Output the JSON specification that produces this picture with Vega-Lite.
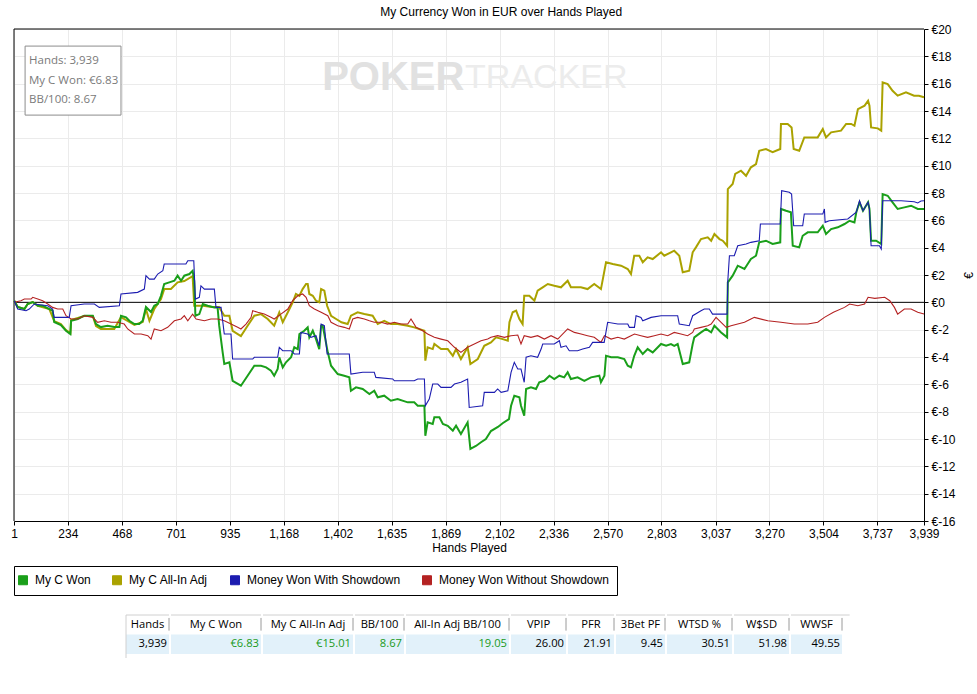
{
"$schema": "https://vega.github.io/schema/vega-lite/v6.json",
"background": "white",
"padding": {"left": 10, "top": 6, "right": 0, "bottom": 0},
"title": {"text": "My Currency Won in EUR over Hands Played", "anchor": "start", "dx": 370, "offset": 4, "font": "Liberation Sans", "fontSize": 12, "fontWeight": "normal", "color": "black"},
"config": {"view": {"stroke": null}, "font": "Liberation Sans",
 "axis": {"labelOverlap": false, "labelFlush": false, "gridColor": "#ebebeb", "domainColor": "black", "tickColor": "black", "tickSize": 4, "labelFont": "Liberation Sans", "labelFontSize": 12, "labelColor": "black", "labelPadding": 3, "titleFont": "Liberation Sans", "titleFontSize": 12, "titleFontWeight": "normal", "titleColor": "black"}},
"datasets": {
"won": [{"h":2,"v":0.12},{"h":17,"v":-0.34},{"h":46,"v":-0.49},{"h":60,"v":-0.12},{"h":82,"v":0.02},{"h":104,"v":-0.25},{"h":126,"v":-0.25},{"h":154,"v":-0.49},{"h":168,"v":-0.61},{"h":175,"v":-1.44},{"h":204,"v":-1.66},{"h":226,"v":-2.08},{"h":245,"v":-2.32},{"h":248,"v":-1.35},{"h":277,"v":-1.22},{"h":305,"v":-0.98},{"h":342,"v":-0.98},{"h":356,"v":-1.59},{"h":377,"v":-1.81},{"h":406,"v":-1.71},{"h":435,"v":-1.81},{"h":457,"v":-1.81},{"h":464,"v":-0.98},{"h":486,"v":-1.10},{"h":500,"v":-1.35},{"h":522,"v":-1.59},{"h":543,"v":-1.59},{"h":558,"v":-1.35},{"h":572,"v":-0.34},{"h":594,"v":-0.71},{"h":608,"v":-0.25},{"h":623,"v":-0.12},{"h":637,"v":0.48},{"h":651,"v":1.34},{"h":673,"v":1.46},{"h":695,"v":1.58},{"h":709,"v":1.95},{"h":724,"v":1.58},{"h":738,"v":1.95},{"h":760,"v":2.07},{"h":774,"v":2.31},{"h":781,"v":1.58},{"h":786,"v":-0.98},{"h":803,"v":-0.86},{"h":818,"v":-0.12},{"h":839,"v":-0.25},{"h":868,"v":-0.37},{"h":882,"v":-0.37},{"h":889,"v":-1.71},{"h":904,"v":-3.66},{"h":911,"v":-4.51},{"h":933,"v":-4.39},{"h":947,"v":-5.74},{"h":983,"v":-6.10},{"h":1012,"v":-5.37},{"h":1041,"v":-4.64},{"h":1070,"v":-4.64},{"h":1092,"v":-4.76},{"h":1113,"v":-5.00},{"h":1127,"v":-5.37},{"h":1142,"v":-4.88},{"h":1149,"v":-4.02},{"h":1164,"v":-4.76},{"h":1178,"v":-4.39},{"h":1200,"v":-4.02},{"h":1214,"v":-3.29},{"h":1229,"v":-3.42},{"h":1236,"v":-2.32},{"h":1257,"v":-2.08},{"h":1272,"v":-1.83},{"h":1279,"v":-2.56},{"h":1294,"v":-2.08},{"h":1308,"v":-2.69},{"h":1322,"v":-3.42},{"h":1330,"v":-1.71},{"h":1337,"v":-1.71},{"h":1344,"v":-2.32},{"h":1359,"v":-3.66},{"h":1373,"v":-4.64},{"h":1402,"v":-5.25},{"h":1430,"v":-5.37},{"h":1452,"v":-5.49},{"h":1459,"v":-6.47},{"h":1481,"v":-6.22},{"h":1510,"v":-6.34},{"h":1539,"v":-6.71},{"h":1560,"v":-6.47},{"h":1575,"v":-6.95},{"h":1603,"v":-6.83},{"h":1632,"v":-7.20},{"h":1661,"v":-7.08},{"h":1705,"v":-7.32},{"h":1733,"v":-7.32},{"h":1748,"v":-7.56},{"h":1777,"v":-7.56},{"h":1781,"v":-9.76},{"h":1791,"v":-8.78},{"h":1813,"v":-8.90},{"h":1820,"v":-8.41},{"h":1842,"v":-8.41},{"h":1857,"v":-8.90},{"h":1878,"v":-9.03},{"h":1900,"v":-9.39},{"h":1914,"v":-9.03},{"h":1935,"v":-9.64},{"h":1964,"v":-8.78},{"h":1976,"v":-10.73},{"h":2000,"v":-10.51},{"h":2022,"v":-10.24},{"h":2043,"v":-10.00},{"h":2065,"v":-9.42},{"h":2095,"v":-9.12},{"h":2117,"v":-8.83},{"h":2143,"v":-8.54},{"h":2152,"v":-7.57},{"h":2166,"v":-6.83},{"h":2188,"v":-6.95},{"h":2195,"v":-7.57},{"h":2209,"v":-8.30},{"h":2217,"v":-6.34},{"h":2238,"v":-6.22},{"h":2260,"v":-6.34},{"h":2274,"v":-5.85},{"h":2296,"v":-5.74},{"h":2318,"v":-5.37},{"h":2339,"v":-5.61},{"h":2361,"v":-5.37},{"h":2382,"v":-5.49},{"h":2397,"v":-5.12},{"h":2411,"v":-5.61},{"h":2440,"v":-5.49},{"h":2469,"v":-5.74},{"h":2498,"v":-5.49},{"h":2534,"v":-5.37},{"h":2541,"v":-5.85},{"h":2556,"v":-5.37},{"h":2563,"v":-3.91},{"h":2585,"v":-4.02},{"h":2614,"v":-4.02},{"h":2642,"v":-4.15},{"h":2657,"v":-4.64},{"h":2671,"v":-4.76},{"h":2685,"v":-3.91},{"h":2700,"v":-3.29},{"h":2722,"v":-3.78},{"h":2743,"v":-3.42},{"h":2765,"v":-3.66},{"h":2801,"v":-3.05},{"h":2823,"v":-3.18},{"h":2844,"v":-3.05},{"h":2858,"v":-3.18},{"h":2873,"v":-3.05},{"h":2895,"v":-4.51},{"h":2923,"v":-4.39},{"h":2938,"v":-3.05},{"h":2945,"v":-2.56},{"h":2974,"v":-2.20},{"h":2996,"v":-1.95},{"h":3018,"v":-2.20},{"h":3032,"v":-1.71},{"h":3061,"v":-2.20},{"h":3087,"v":-2.56},{"h":3090,"v":1.46},{"h":3111,"v":1.95},{"h":3133,"v":2.68},{"h":3162,"v":2.44},{"h":3190,"v":3.17},{"h":3212,"v":3.41},{"h":3226,"v":4.39},{"h":3255,"v":4.51},{"h":3284,"v":4.27},{"h":3317,"v":4.39},{"h":3320,"v":6.83},{"h":3342,"v":6.70},{"h":3363,"v":6.59},{"h":3371,"v":4.14},{"h":3399,"v":4.02},{"h":3414,"v":4.87},{"h":3436,"v":5.12},{"h":3479,"v":5.12},{"h":3501,"v":5.60},{"h":3515,"v":5.00},{"h":3537,"v":5.36},{"h":3566,"v":5.49},{"h":3595,"v":5.73},{"h":3617,"v":5.97},{"h":3638,"v":5.85},{"h":3646,"v":6.59},{"h":3660,"v":7.32},{"h":3675,"v":6.70},{"h":3697,"v":7.32},{"h":3703,"v":6.83},{"h":3710,"v":4.51},{"h":3732,"v":4.51},{"h":3754,"v":4.27},{"h":3760,"v":7.92},{"h":3782,"v":7.80},{"h":3803,"v":7.32},{"h":3825,"v":6.83},{"h":3854,"v":6.95},{"h":3883,"v":7.07},{"h":3912,"v":6.83},{"h":3939,"v":6.83}],
"adj": [{"h":2,"v":0.12},{"h":17,"v":-0.34},{"h":46,"v":-0.49},{"h":60,"v":-0.12},{"h":82,"v":0.02},{"h":104,"v":-0.25},{"h":154,"v":-0.49},{"h":175,"v":-1.37},{"h":204,"v":-1.59},{"h":226,"v":-2.03},{"h":245,"v":-2.25},{"h":248,"v":-1.30},{"h":305,"v":-1.00},{"h":342,"v":-1.00},{"h":356,"v":-1.73},{"h":377,"v":-1.95},{"h":435,"v":-1.95},{"h":464,"v":-1.08},{"h":500,"v":-1.44},{"h":522,"v":-1.66},{"h":558,"v":-1.44},{"h":572,"v":-0.49},{"h":587,"v":-1.35},{"h":608,"v":-0.49},{"h":637,"v":0.24},{"h":651,"v":0.97},{"h":680,"v":0.97},{"h":709,"v":1.46},{"h":738,"v":1.56},{"h":774,"v":1.92},{"h":781,"v":-0.25},{"h":818,"v":-0.25},{"h":858,"v":-0.34},{"h":888,"v":-0.34},{"h":911,"v":-0.98},{"h":933,"v":-0.98},{"h":947,"v":-2.08},{"h":983,"v":-2.47},{"h":1012,"v":-1.71},{"h":1041,"v":-0.98},{"h":1070,"v":-0.86},{"h":1099,"v":-1.22},{"h":1127,"v":-1.71},{"h":1149,"v":-0.73},{"h":1164,"v":-1.46},{"h":1186,"v":-0.73},{"h":1207,"v":0},{"h":1221,"v":0.61},{"h":1236,"v":0.48},{"h":1250,"v":0.97},{"h":1265,"v":1.34},{"h":1272,"v":1.34},{"h":1279,"v":0.61},{"h":1294,"v":0.48},{"h":1308,"v":0.12},{"h":1322,"v":0},{"h":1330,"v":0.97},{"h":1344,"v":0.85},{"h":1356,"v":-0.25},{"h":1373,"v":-0.98},{"h":1395,"v":-1.22},{"h":1418,"v":-1.46},{"h":1445,"v":-1.59},{"h":1459,"v":-0.98},{"h":1488,"v":-0.73},{"h":1517,"v":-0.86},{"h":1553,"v":-0.98},{"h":1575,"v":-1.59},{"h":1603,"v":-1.35},{"h":1632,"v":-1.59},{"h":1661,"v":-1.59},{"h":1705,"v":-1.71},{"h":1733,"v":-1.83},{"h":1777,"v":-2.08},{"h":1781,"v":-4.27},{"h":1791,"v":-3.29},{"h":1813,"v":-3.42},{"h":1820,"v":-3.05},{"h":1849,"v":-3.42},{"h":1878,"v":-3.42},{"h":1900,"v":-3.91},{"h":1914,"v":-3.42},{"h":1935,"v":-4.15},{"h":1964,"v":-3.29},{"h":1976,"v":-4.51},{"h":2008,"v":-4.15},{"h":2036,"v":-3.18},{"h":2065,"v":-2.93},{"h":2087,"v":-2.56},{"h":2116,"v":-2.69},{"h":2138,"v":-2.81},{"h":2145,"v":-1.46},{"h":2159,"v":-0.73},{"h":2174,"v":-0.61},{"h":2188,"v":-1.22},{"h":2202,"v":-1.59},{"h":2209,"v":0.48},{"h":2231,"v":0.48},{"h":2253,"v":0.12},{"h":2267,"v":0.85},{"h":2289,"v":1.10},{"h":2311,"v":1.34},{"h":2339,"v":1.21},{"h":2368,"v":1.10},{"h":2397,"v":1.58},{"h":2411,"v":1.10},{"h":2454,"v":1.10},{"h":2483,"v":0.97},{"h":2512,"v":1.34},{"h":2541,"v":0.97},{"h":2563,"v":2.93},{"h":2592,"v":2.80},{"h":2628,"v":2.68},{"h":2657,"v":2.44},{"h":2671,"v":2.07},{"h":2685,"v":3.41},{"h":2707,"v":3.41},{"h":2722,"v":2.93},{"h":2743,"v":3.29},{"h":2765,"v":3.17},{"h":2801,"v":3.66},{"h":2815,"v":3.41},{"h":2844,"v":3.66},{"h":2858,"v":3.78},{"h":2880,"v":3.41},{"h":2895,"v":2.20},{"h":2923,"v":2.31},{"h":2938,"v":3.66},{"h":2952,"v":4.02},{"h":2974,"v":4.63},{"h":3003,"v":4.76},{"h":3018,"v":4.51},{"h":3032,"v":5.00},{"h":3054,"v":4.63},{"h":3068,"v":4.51},{"h":3087,"v":4.14},{"h":3090,"v":8.29},{"h":3111,"v":8.66},{"h":3122,"v":9.39},{"h":3147,"v":9.63},{"h":3169,"v":9.26},{"h":3190,"v":9.88},{"h":3212,"v":10.12},{"h":3226,"v":11.09},{"h":3255,"v":11.22},{"h":3284,"v":10.98},{"h":3317,"v":11.22},{"h":3320,"v":13.05},{"h":3349,"v":13.05},{"h":3366,"v":12.80},{"h":3375,"v":11.22},{"h":3399,"v":11.09},{"h":3421,"v":12.07},{"h":3479,"v":12.07},{"h":3501,"v":12.68},{"h":3515,"v":12.07},{"h":3537,"v":12.44},{"h":3580,"v":12.56},{"h":3602,"v":13.05},{"h":3624,"v":13.05},{"h":3638,"v":12.92},{"h":3653,"v":14.14},{"h":3682,"v":14.39},{"h":3697,"v":14.75},{"h":3703,"v":14.39},{"h":3710,"v":12.80},{"h":3739,"v":12.73},{"h":3754,"v":12.56},{"h":3760,"v":16.10},{"h":3782,"v":15.97},{"h":3803,"v":15.48},{"h":3825,"v":15.12},{"h":3861,"v":15.37},{"h":3896,"v":15.12},{"h":3917,"v":15.12},{"h":3939,"v":15.01}],
"sd": [{"h":2,"v":0.12},{"h":17,"v":-0.49},{"h":53,"v":-0.61},{"h":67,"v":-0.49},{"h":89,"v":-0.12},{"h":147,"v":-0.25},{"h":168,"v":-0.49},{"h":175,"v":-1.10},{"h":240,"v":-1.10},{"h":248,"v":-0.25},{"h":305,"v":-0.12},{"h":349,"v":-0.12},{"h":370,"v":-0.37},{"h":457,"v":-0.25},{"h":464,"v":0.61},{"h":536,"v":0.73},{"h":565,"v":0.97},{"h":572,"v":1.95},{"h":587,"v":1.70},{"h":608,"v":1.70},{"h":623,"v":2.07},{"h":645,"v":2.31},{"h":651,"v":2.80},{"h":745,"v":2.80},{"h":753,"v":3.04},{"h":779,"v":3.04},{"h":786,"v":0.24},{"h":803,"v":0.37},{"h":810,"v":1.21},{"h":825,"v":0.97},{"h":868,"v":0.97},{"h":875,"v":-0.37},{"h":897,"v":-0.37},{"h":911,"v":-2.32},{"h":940,"v":-2.32},{"h":947,"v":-4.15},{"h":1034,"v":-4.15},{"h":1041,"v":-4.02},{"h":1142,"v":-4.02},{"h":1149,"v":-3.29},{"h":1164,"v":-3.54},{"h":1200,"v":-3.54},{"h":1214,"v":-3.78},{"h":1236,"v":-3.78},{"h":1243,"v":-2.20},{"h":1272,"v":-2.32},{"h":1286,"v":-2.56},{"h":1308,"v":-2.44},{"h":1322,"v":-3.18},{"h":1330,"v":-1.59},{"h":1344,"v":-1.71},{"h":1356,"v":-3.78},{"h":1452,"v":-3.78},{"h":1459,"v":-5.25},{"h":1510,"v":-5.12},{"h":1560,"v":-5.12},{"h":1567,"v":-5.49},{"h":1640,"v":-5.61},{"h":1647,"v":-5.74},{"h":1733,"v":-5.74},{"h":1748,"v":-5.61},{"h":1777,"v":-5.61},{"h":1781,"v":-7.57},{"h":1798,"v":-7.08},{"h":1813,"v":-5.98},{"h":1835,"v":-5.98},{"h":1849,"v":-6.22},{"h":1892,"v":-6.22},{"h":1907,"v":-5.98},{"h":1935,"v":-5.85},{"h":1964,"v":-5.61},{"h":1971,"v":-7.69},{"h":2029,"v":-7.57},{"h":2036,"v":-6.59},{"h":2080,"v":-6.59},{"h":2094,"v":-6.34},{"h":2109,"v":-6.59},{"h":2138,"v":-6.47},{"h":2152,"v":-5.12},{"h":2166,"v":-4.39},{"h":2181,"v":-4.88},{"h":2195,"v":-4.88},{"h":2209,"v":-5.85},{"h":2217,"v":-4.02},{"h":2238,"v":-3.91},{"h":2267,"v":-4.02},{"h":2282,"v":-3.42},{"h":2289,"v":-3.05},{"h":2339,"v":-3.05},{"h":2361,"v":-2.81},{"h":2368,"v":-3.29},{"h":2390,"v":-3.18},{"h":2404,"v":-3.54},{"h":2440,"v":-3.54},{"h":2462,"v":-3.42},{"h":2491,"v":-3.29},{"h":2505,"v":-2.93},{"h":2555,"v":-2.93},{"h":2570,"v":-1.46},{"h":2614,"v":-1.59},{"h":2657,"v":-1.59},{"h":2664,"v":-1.83},{"h":2686,"v":-1.83},{"h":2693,"v":-0.98},{"h":2714,"v":-1.10},{"h":2722,"v":-1.35},{"h":2758,"v":-1.10},{"h":2801,"v":-0.98},{"h":2873,"v":-0.98},{"h":2880,"v":-1.59},{"h":2923,"v":-1.71},{"h":2938,"v":-0.98},{"h":2974,"v":-0.61},{"h":2988,"v":-0.49},{"h":3010,"v":-0.49},{"h":3024,"v":-0.86},{"h":3087,"v":-0.86},{"h":3090,"v":1.58},{"h":3097,"v":3.41},{"h":3118,"v":3.41},{"h":3133,"v":4.14},{"h":3169,"v":4.27},{"h":3190,"v":4.39},{"h":3226,"v":4.51},{"h":3231,"v":5.73},{"h":3317,"v":5.73},{"h":3323,"v":8.17},{"h":3356,"v":8.05},{"h":3366,"v":7.92},{"h":3375,"v":5.60},{"h":3414,"v":5.60},{"h":3421,"v":6.46},{"h":3501,"v":6.46},{"h":3508,"v":6.83},{"h":3511,"v":5.85},{"h":3529,"v":5.97},{"h":3609,"v":6.10},{"h":3646,"v":6.59},{"h":3660,"v":7.43},{"h":3675,"v":6.70},{"h":3697,"v":7.32},{"h":3703,"v":6.83},{"h":3710,"v":4.14},{"h":3746,"v":4.14},{"h":3754,"v":3.90},{"h":3760,"v":7.43},{"h":3840,"v":7.43},{"h":3897,"v":7.36},{"h":3912,"v":7.27},{"h":3926,"v":7.41},{"h":3939,"v":7.43}],
"nsd": [{"h":2,"v":0},{"h":31,"v":0.12},{"h":46,"v":0.24},{"h":75,"v":0.24},{"h":82,"v":0.37},{"h":104,"v":0.24},{"h":125,"v":0.12},{"h":147,"v":-0.12},{"h":168,"v":-0.37},{"h":190,"v":-0.49},{"h":212,"v":-0.49},{"h":226,"v":-0.98},{"h":248,"v":-1.22},{"h":277,"v":-1.22},{"h":305,"v":-0.98},{"h":342,"v":-1.10},{"h":363,"v":-1.46},{"h":392,"v":-1.35},{"h":421,"v":-1.46},{"h":450,"v":-1.46},{"h":478,"v":-1.59},{"h":493,"v":-1.95},{"h":522,"v":-2.32},{"h":551,"v":-2.32},{"h":580,"v":-2.44},{"h":594,"v":-2.69},{"h":608,"v":-1.95},{"h":637,"v":-2.08},{"h":666,"v":-1.83},{"h":695,"v":-1.35},{"h":724,"v":-1.22},{"h":738,"v":-0.98},{"h":753,"v":-1.35},{"h":774,"v":-0.86},{"h":789,"v":-1.22},{"h":825,"v":-1.35},{"h":853,"v":-1.22},{"h":882,"v":-1.22},{"h":911,"v":-1.35},{"h":940,"v":-1.59},{"h":969,"v":-1.83},{"h":983,"v":-1.95},{"h":1005,"v":-1.59},{"h":1027,"v":-1.10},{"h":1034,"v":-0.61},{"h":1056,"v":-0.73},{"h":1084,"v":-0.86},{"h":1113,"v":-1.10},{"h":1127,"v":-1.22},{"h":1156,"v":-0.86},{"h":1186,"v":-0.49},{"h":1207,"v":0.12},{"h":1229,"v":0.48},{"h":1250,"v":0.61},{"h":1265,"v":0.37},{"h":1279,"v":-0.25},{"h":1301,"v":-0.49},{"h":1330,"v":-0.73},{"h":1359,"v":-0.98},{"h":1373,"v":-1.46},{"h":1402,"v":-1.71},{"h":1430,"v":-1.83},{"h":1452,"v":-1.95},{"h":1467,"v":-1.22},{"h":1488,"v":-1.10},{"h":1517,"v":-1.22},{"h":1539,"v":-1.35},{"h":1560,"v":-1.46},{"h":1589,"v":-1.46},{"h":1618,"v":-1.59},{"h":1647,"v":-1.46},{"h":1676,"v":-1.59},{"h":1705,"v":-1.59},{"h":1719,"v":-1.22},{"h":1741,"v":-1.83},{"h":1770,"v":-2.08},{"h":1791,"v":-2.32},{"h":1820,"v":-2.56},{"h":1849,"v":-2.69},{"h":1878,"v":-2.81},{"h":1907,"v":-3.29},{"h":1935,"v":-3.66},{"h":1964,"v":-3.29},{"h":1993,"v":-3.05},{"h":2022,"v":-2.81},{"h":2051,"v":-2.69},{"h":2065,"v":-2.56},{"h":2094,"v":-2.44},{"h":2123,"v":-2.56},{"h":2152,"v":-2.44},{"h":2181,"v":-2.39},{"h":2195,"v":-3.05},{"h":2209,"v":-2.44},{"h":2238,"v":-2.56},{"h":2267,"v":-2.44},{"h":2296,"v":-2.69},{"h":2325,"v":-2.44},{"h":2354,"v":-2.69},{"h":2397,"v":-1.95},{"h":2426,"v":-2.20},{"h":2455,"v":-2.32},{"h":2483,"v":-2.44},{"h":2512,"v":-2.56},{"h":2541,"v":-2.93},{"h":2556,"v":-2.44},{"h":2585,"v":-2.69},{"h":2614,"v":-2.56},{"h":2642,"v":-2.69},{"h":2686,"v":-2.32},{"h":2714,"v":-2.44},{"h":2743,"v":-2.56},{"h":2772,"v":-2.44},{"h":2801,"v":-2.32},{"h":2830,"v":-2.44},{"h":2858,"v":-2.20},{"h":2887,"v":-2.32},{"h":2916,"v":-2.44},{"h":2938,"v":-2.20},{"h":2945,"v":-1.95},{"h":2974,"v":-1.83},{"h":3003,"v":-1.71},{"h":3018,"v":-1.59},{"h":3039,"v":-1.10},{"h":3061,"v":-1.46},{"h":3083,"v":-1.83},{"h":3104,"v":-1.71},{"h":3133,"v":-1.59},{"h":3162,"v":-1.46},{"h":3190,"v":-1.22},{"h":3205,"v":-1.10},{"h":3263,"v":-1.35},{"h":3320,"v":-1.46},{"h":3378,"v":-1.59},{"h":3436,"v":-1.59},{"h":3479,"v":-1.46},{"h":3508,"v":-1.10},{"h":3547,"v":-0.73},{"h":3595,"v":-0.37},{"h":3617,"v":-0.12},{"h":3653,"v":-0.25},{"h":3682,"v":-0.12},{"h":3697,"v":0.37},{"h":3726,"v":0.29},{"h":3769,"v":0.37},{"h":3791,"v":0.12},{"h":3811,"v":-0.37},{"h":3825,"v":-0.86},{"h":3854,"v":-0.49},{"h":3883,"v":-0.49},{"h":3912,"v":-0.73},{"h":3939,"v":-0.86}],
"stats": [{"col":"Hands","value":"3,939"},{"col":"My C Won","value":"€6.83"},{"col":"My C All-In Adj","value":"€15.01"},{"col":"BB/100","value":"8.67"},{"col":"All-In Adj BB/100","value":"19.05"},{"col":"VPIP","value":"26.00"},{"col":"PFR","value":"21.91"},{"col":"3Bet PF","value":"9.45"},{"col":"WTSD %","value":"30.51"},{"col":"W$SD","value":"51.98"},{"col":"WWSF","value":"49.55"}]
},
"spacing": 61,
"vconcat": [
{
"width": 910, "height": 492,
"layer": [
 {"data": {"name": "stats"}, "transform": [{"filter": "datum.col == 'Hands'"}], "mark": {"type": "text", "text": "POKER", "font": "Liberation Sans", "fontWeight": "bold", "fontSize": 40, "color": "#e1e1e1", "align": "right", "baseline": "middle"},
  "encoding": {"x": {"datum": 1950, "type": "quantitative", "title": "Hands Played", "axis": {"values": [1,234,468,701,935,1168,1402,1635,1869,2102,2336,2570,2803,3037,3270,3504,3737,3939], "format": ",d", "labelFlush": false, "labelOverlap": false, "grid": true, "titlePadding": 3}},
   "y": {"datum": 16.4, "type": "quantitative", "title": "€", "axis": {"orient": "right", "values": [-16,-14,-12,-10,-8,-6,-4,-2,0,2,4,6,8,10,12,14,16,18,20], "labelExpr": "datum.value < 0 ? '€-' + abs(datum.value) : '€' + datum.value", "labelFlush": false, "labelOverlap": false, "grid": true, "titleAngle": 270, "titlePadding": 20}}}},
 {"data": {"name": "stats"}, "transform": [{"filter": "datum.col == 'Hands'"}], "mark": {"type": "text", "text": "TRACKER", "font": "Liberation Sans", "fontSize": 34, "color": "#ececec", "align": "left", "baseline": "middle"},
  "encoding": {"x": {"datum": 1953, "type": "quantitative", "title": "Hands Played", "axis": {"values": [1,234,468,701,935,1168,1402,1635,1869,2102,2336,2570,2803,3037,3270,3504,3737,3939], "format": ",d", "labelFlush": false, "labelOverlap": false, "grid": true, "titlePadding": 3}},
   "y": {"datum": 16.4, "type": "quantitative", "title": "€", "axis": {"orient": "right", "values": [-16,-14,-12,-10,-8,-6,-4,-2,0,2,4,6,8,10,12,14,16,18,20], "labelExpr": "datum.value < 0 ? '€-' + abs(datum.value) : '€' + datum.value", "labelFlush": false, "labelOverlap": false, "grid": true, "titleAngle": 270, "titlePadding": 20}}}},
 {"data": {"name": "stats"}, "transform": [{"filter": "datum.col == 'Hands'"}], "mark": {"type": "rule", "color": "black", "strokeWidth": 1},
  "encoding": {"x": {"datum": 1, "type": "quantitative", "title": "Hands Played", "axis": {"values": [1,234,468,701,935,1168,1402,1635,1869,2102,2336,2570,2803,3037,3270,3504,3737,3939], "format": ",d", "labelFlush": false, "labelOverlap": false, "grid": true, "titlePadding": 3}}, "x2": {"datum": 3939},
   "y": {"datum": 20, "type": "quantitative", "title": "€", "axis": {"orient": "right", "values": [-16,-14,-12,-10,-8,-6,-4,-2,0,2,4,6,8,10,12,14,16,18,20], "labelExpr": "datum.value < 0 ? '€-' + abs(datum.value) : '€' + datum.value", "labelFlush": false, "labelOverlap": false, "grid": true, "titleAngle": 270, "titlePadding": 20}}}},
 {"data": {"name": "stats"}, "transform": [{"filter": "datum.col == 'Hands'"}], "mark": {"type": "rule", "color": "black", "strokeWidth": 1},
  "encoding": {"x": {"datum": 1, "type": "quantitative", "title": "Hands Played", "axis": {"values": [1,234,468,701,935,1168,1402,1635,1869,2102,2336,2570,2803,3037,3270,3504,3737,3939], "format": ",d", "labelFlush": false, "labelOverlap": false, "grid": true, "titlePadding": 3}},
   "y": {"datum": -16, "type": "quantitative", "title": "€", "axis": {"orient": "right", "values": [-16,-14,-12,-10,-8,-6,-4,-2,0,2,4,6,8,10,12,14,16,18,20], "labelExpr": "datum.value < 0 ? '€-' + abs(datum.value) : '€' + datum.value", "labelFlush": false, "labelOverlap": false, "grid": true, "titleAngle": 270, "titlePadding": 20}}, "y2": {"datum": 20}}},
 {"data": {"name": "stats"}, "transform": [{"filter": "datum.col == 'Hands'"}], "mark": {"type": "rule", "color": "black", "strokeWidth": 1},
  "encoding": {"x": {"datum": 1, "type": "quantitative", "title": "Hands Played", "axis": {"values": [1,234,468,701,935,1168,1402,1635,1869,2102,2336,2570,2803,3037,3270,3504,3737,3939], "format": ",d", "labelFlush": false, "labelOverlap": false, "grid": true, "titlePadding": 3}}, "x2": {"datum": 3939},
   "y": {"datum": 0, "type": "quantitative", "title": "€", "axis": {"orient": "right", "values": [-16,-14,-12,-10,-8,-6,-4,-2,0,2,4,6,8,10,12,14,16,18,20], "labelExpr": "datum.value < 0 ? '€-' + abs(datum.value) : '€' + datum.value", "labelFlush": false, "labelOverlap": false, "grid": true, "titleAngle": 270, "titlePadding": 20}}}},
 {"data": {"name": "adj"}, "mark": {"type": "line", "strokeWidth": 2},
  "encoding": {
   "x": {"field": "h", "type": "quantitative", "title": "Hands Played", "scale": {"domain": [1, 3939], "nice": false, "zero": false},
    "axis": {"values": [1,234,468,701,935,1168,1402,1635,1869,2102,2336,2570,2803,3037,3270,3504,3737,3939], "format": ",d", "labelFlush": false, "labelOverlap": false, "grid": true, "titlePadding": 3}},
   "y": {"field": "v", "type": "quantitative", "title": "€", "scale": {"domain": [-16, 20], "nice": false, "zero": false},
    "axis": {"orient": "right", "values": [-16,-14,-12,-10,-8,-6,-4,-2,0,2,4,6,8,10,12,14,16,18,20], "labelExpr": "datum.value < 0 ? '€-' + abs(datum.value) : '€' + datum.value", "labelFlush": false, "labelOverlap": false, "grid": true, "titleAngle": 270, "titlePadding": 20}},
   "color": {"datum": "My C All-In Adj", "type": "nominal",
   "scale": {"domain": ["My C Won", "My C All-In Adj", "Money Won With Showdown", "Money Won Without Showdown"], "range": ["#1a9f1a", "#aaa200", "#1c1cb0", "#b42222"]},
   "legend": {"title": null, "orient": "none", "legendX": 0, "legendY": 537, "direction": "horizontal", "columns": 4, "columnPadding": 19, "symbolType": "square", "symbolSize": 81, "symbolStrokeWidth": 1, "symbolStrokeColor": "black", "symbolOffset": -5, "labelFont": "Liberation Sans", "labelFontSize": 12, "labelColor": "black", "labelOffset": 6, "labelLimit": 300, "strokeColor": "black", "fillColor": "white", "padding": 8,
     "encode": {"symbols": {"update": {"fill": {"scale": "color", "field": "value"}, "stroke": {"value": "black"}, "strokeWidth": {"value": 1}, "opacity": {"value": 1}}}}}}}},
 {"data": {"name": "won"}, "mark": {"type": "line", "strokeWidth": 2},
  "encoding": {"x": {"field": "h", "type": "quantitative", "title": "Hands Played", "axis": {"values": [1,234,468,701,935,1168,1402,1635,1869,2102,2336,2570,2803,3037,3270,3504,3737,3939], "format": ",d", "labelFlush": false, "labelOverlap": false, "grid": true, "titlePadding": 3}},
   "y": {"field": "v", "type": "quantitative", "title": "€", "axis": {"orient": "right", "values": [-16,-14,-12,-10,-8,-6,-4,-2,0,2,4,6,8,10,12,14,16,18,20], "labelExpr": "datum.value < 0 ? '€-' + abs(datum.value) : '€' + datum.value", "labelFlush": false, "labelOverlap": false, "grid": true, "titleAngle": 270, "titlePadding": 20}},
   "color": {"datum": "My C Won", "type": "nominal"}}},
 {"data": {"name": "nsd"}, "mark": {"type": "line", "strokeWidth": 1.1},
  "encoding": {"x": {"field": "h", "type": "quantitative", "title": "Hands Played", "axis": {"values": [1,234,468,701,935,1168,1402,1635,1869,2102,2336,2570,2803,3037,3270,3504,3737,3939], "format": ",d", "labelFlush": false, "labelOverlap": false, "grid": true, "titlePadding": 3}},
   "y": {"field": "v", "type": "quantitative", "title": "€", "axis": {"orient": "right", "values": [-16,-14,-12,-10,-8,-6,-4,-2,0,2,4,6,8,10,12,14,16,18,20], "labelExpr": "datum.value < 0 ? '€-' + abs(datum.value) : '€' + datum.value", "labelFlush": false, "labelOverlap": false, "grid": true, "titleAngle": 270, "titlePadding": 20}},
   "color": {"datum": "Money Won Without Showdown", "type": "nominal"}}},
 {"data": {"name": "sd"}, "mark": {"type": "line", "strokeWidth": 1.1},
  "encoding": {"x": {"field": "h", "type": "quantitative", "title": "Hands Played", "axis": {"values": [1,234,468,701,935,1168,1402,1635,1869,2102,2336,2570,2803,3037,3270,3504,3737,3939], "format": ",d", "labelFlush": false, "labelOverlap": false, "grid": true, "titlePadding": 3}},
   "y": {"field": "v", "type": "quantitative", "title": "€", "axis": {"orient": "right", "values": [-16,-14,-12,-10,-8,-6,-4,-2,0,2,4,6,8,10,12,14,16,18,20], "labelExpr": "datum.value < 0 ? '€-' + abs(datum.value) : '€' + datum.value", "labelFlush": false, "labelOverlap": false, "grid": true, "titleAngle": 270, "titlePadding": 20}},
   "color": {"datum": "Money Won With Showdown", "type": "nominal"}}},
 {"data": {"name": "stats"}, "transform": [{"filter": "datum.col == 'Hands'"}], "mark": {"type": "rect", "fill": "white", "stroke": "#8c8c8c", "strokeWidth": 1},
  "encoding": {"x": {"datum": 49, "type": "quantitative", "title": "Hands Played", "axis": {"values": [1,234,468,701,935,1168,1402,1635,1869,2102,2336,2570,2803,3037,3270,3504,3737,3939], "format": ",d", "labelFlush": false, "labelOverlap": false, "grid": true, "titlePadding": 3}}, "x2": {"datum": 464},
   "y": {"datum": 18.75, "type": "quantitative", "title": "€", "axis": {"orient": "right", "values": [-16,-14,-12,-10,-8,-6,-4,-2,0,2,4,6,8,10,12,14,16,18,20], "labelExpr": "datum.value < 0 ? '€-' + abs(datum.value) : '€' + datum.value", "labelFlush": false, "labelOverlap": false, "grid": true, "titleAngle": 270, "titlePadding": 20}}, "y2": {"datum": 13.7}}},
 {"data": {"name": "stats"}, "transform": [{"filter": "datum.col == 'Hands'"}], "mark": {"type": "text", "text": ["Hands: 3,939", "My C Won: €6.83", "BB/100: 8.67"], "lineHeight": 19.5, "font": "Open Sans", "fontSize": 11.5, "color": "#7a7a7a", "align": "left", "baseline": "middle"},
  "encoding": {"x": {"datum": 66, "type": "quantitative", "title": "Hands Played", "axis": {"values": [1,234,468,701,935,1168,1402,1635,1869,2102,2336,2570,2803,3037,3270,3504,3737,3939], "format": ",d", "labelFlush": false, "labelOverlap": false, "grid": true, "titlePadding": 3}},
   "y": {"datum": 17.65, "type": "quantitative", "title": "€", "axis": {"orient": "right", "values": [-16,-14,-12,-10,-8,-6,-4,-2,0,2,4,6,8,10,12,14,16,18,20], "labelExpr": "datum.value < 0 ? '€-' + abs(datum.value) : '€' + datum.value", "labelFlush": false, "labelOverlap": false, "grid": true, "titleAngle": 270, "titlePadding": 20}}}}
]
},
{
"spacing": 0,
"hconcat": [
 {"width": 111, "height": 43, "data": {"name": "stats"}, "transform": [{"filter": "datum.col == 'Hands'"}], "mark": {"type": "text", "text": ""}},
 {"width": 43, "height": 43, "data": {"name": "stats"}, "transform": [{"filter": "datum.col == 'Hands'"}], "layer": [
  {"mark": {"type": "rect", "color": "#e2f1fa"}, "encoding": {"x": {"datum": 0, "type": "quantitative", "scale": {"domain": [0, 1]}, "axis": null}, "x2": {"datum": 1}, "y": {"datum": 1, "type": "quantitative", "scale": {"domain": [0, 2.2], "reverse": true}, "axis": null}, "y2": {"datum": 2}}},
  {"mark": {"type": "rule", "color": "#d0d0d0"}, "encoding": {"x": {"datum": 0, "type": "quantitative", "axis": null}, "y": {"datum": 0, "type": "quantitative", "axis": null}, "y2": {"datum": 2.2}}},
  {"mark": {"type": "rule", "color": "#d0d0d0"}, "encoding": {"x": {"datum": 0, "type": "quantitative", "axis": null}, "x2": {"datum": 1}, "y": {"datum": 0, "type": "quantitative", "axis": null}}},
  {"mark": {"type": "rule", "color": "#9a9a9a"}, "encoding": {"x": {"datum": 1, "type": "quantitative", "axis": null}, "y": {"datum": 0.15, "type": "quantitative", "axis": null}, "y2": {"datum": 0.8}}},
  {"mark": {"type": "text", "font": "Open Sans", "fontSize": 11.2, "color": "black"}, "encoding": {"x": {"datum": 0.5, "type": "quantitative", "axis": null}, "y": {"datum": 0.5, "type": "quantitative", "axis": null}, "text": {"field": "col"}}},
  {"mark": {"type": "text", "font": "Open Sans", "fontSize": 11.2, "color": "black", "align": "right", "dx": -2}, "encoding": {"x": {"datum": 1, "type": "quantitative", "axis": null}, "y": {"datum": 1.5, "type": "quantitative", "axis": null}, "text": {"field": "value"}}}
 ]},
 {"width": 90, "height": 43, "data": {"name": "stats"}, "transform": [{"filter": "datum.col == 'My C Won'"}], "layer": [
  {"mark": {"type": "rect", "color": "#e2f1fa"}, "encoding": {"x": {"datum": 0, "type": "quantitative", "scale": {"domain": [0, 1]}, "axis": null}, "x2": {"datum": 1}, "y": {"datum": 1, "type": "quantitative", "scale": {"domain": [0, 2.2], "reverse": true}, "axis": null}, "y2": {"datum": 2}}},
  {"mark": {"type": "rule", "color": "#d0d0d0"}, "encoding": {"x": {"datum": 0, "type": "quantitative", "axis": null}, "x2": {"datum": 1}, "y": {"datum": 0, "type": "quantitative", "axis": null}}},
  {"mark": {"type": "rule", "color": "#9a9a9a"}, "encoding": {"x": {"datum": 1, "type": "quantitative", "axis": null}, "y": {"datum": 0.15, "type": "quantitative", "axis": null}, "y2": {"datum": 0.8}}},
  {"mark": {"type": "text", "font": "Open Sans", "fontSize": 11.2, "color": "black"}, "encoding": {"x": {"datum": 0.5, "type": "quantitative", "axis": null}, "y": {"datum": 0.5, "type": "quantitative", "axis": null}, "text": {"field": "col"}}},
  {"mark": {"type": "text", "font": "Open Sans", "fontSize": 11.2, "color": "#1a9a1a", "align": "right", "dx": -2}, "encoding": {"x": {"datum": 1, "type": "quantitative", "axis": null}, "y": {"datum": 1.5, "type": "quantitative", "axis": null}, "text": {"field": "value"}}}
 ]},
 {"width": 90, "height": 43, "data": {"name": "stats"}, "transform": [{"filter": "datum.col == 'My C All-In Adj'"}], "layer": [
  {"mark": {"type": "rect", "color": "#e2f1fa"}, "encoding": {"x": {"datum": 0, "type": "quantitative", "scale": {"domain": [0, 1]}, "axis": null}, "x2": {"datum": 1}, "y": {"datum": 1, "type": "quantitative", "scale": {"domain": [0, 2.2], "reverse": true}, "axis": null}, "y2": {"datum": 2}}},
  {"mark": {"type": "rule", "color": "#d0d0d0"}, "encoding": {"x": {"datum": 0, "type": "quantitative", "axis": null}, "x2": {"datum": 1}, "y": {"datum": 0, "type": "quantitative", "axis": null}}},
  {"mark": {"type": "rule", "color": "#9a9a9a"}, "encoding": {"x": {"datum": 1, "type": "quantitative", "axis": null}, "y": {"datum": 0.15, "type": "quantitative", "axis": null}, "y2": {"datum": 0.8}}},
  {"mark": {"type": "text", "font": "Open Sans", "fontSize": 11.2, "color": "black"}, "encoding": {"x": {"datum": 0.5, "type": "quantitative", "axis": null}, "y": {"datum": 0.5, "type": "quantitative", "axis": null}, "text": {"field": "col"}}},
  {"mark": {"type": "text", "font": "Open Sans", "fontSize": 11.2, "color": "#1a9a1a", "align": "right", "dx": -2}, "encoding": {"x": {"datum": 1, "type": "quantitative", "axis": null}, "y": {"datum": 1.5, "type": "quantitative", "axis": null}, "text": {"field": "value"}}}
 ]},
 {"width": 49, "height": 43, "data": {"name": "stats"}, "transform": [{"filter": "datum.col == 'BB/100'"}], "layer": [
  {"mark": {"type": "rect", "color": "#e2f1fa"}, "encoding": {"x": {"datum": 0, "type": "quantitative", "scale": {"domain": [0, 1]}, "axis": null}, "x2": {"datum": 1}, "y": {"datum": 1, "type": "quantitative", "scale": {"domain": [0, 2.2], "reverse": true}, "axis": null}, "y2": {"datum": 2}}},
  {"mark": {"type": "rule", "color": "#d0d0d0"}, "encoding": {"x": {"datum": 0, "type": "quantitative", "axis": null}, "x2": {"datum": 1}, "y": {"datum": 0, "type": "quantitative", "axis": null}}},
  {"mark": {"type": "rule", "color": "#9a9a9a"}, "encoding": {"x": {"datum": 1, "type": "quantitative", "axis": null}, "y": {"datum": 0.15, "type": "quantitative", "axis": null}, "y2": {"datum": 0.8}}},
  {"mark": {"type": "text", "font": "Open Sans", "fontSize": 11.2, "color": "black"}, "encoding": {"x": {"datum": 0.5, "type": "quantitative", "axis": null}, "y": {"datum": 0.5, "type": "quantitative", "axis": null}, "text": {"field": "col"}}},
  {"mark": {"type": "text", "font": "Open Sans", "fontSize": 11.2, "color": "#1a9a1a", "align": "right", "dx": -2}, "encoding": {"x": {"datum": 1, "type": "quantitative", "axis": null}, "y": {"datum": 1.5, "type": "quantitative", "axis": null}, "text": {"field": "value"}}}
 ]},
 {"width": 103, "height": 43, "data": {"name": "stats"}, "transform": [{"filter": "datum.col == 'All-In Adj BB/100'"}], "layer": [
  {"mark": {"type": "rect", "color": "#e2f1fa"}, "encoding": {"x": {"datum": 0, "type": "quantitative", "scale": {"domain": [0, 1]}, "axis": null}, "x2": {"datum": 1}, "y": {"datum": 1, "type": "quantitative", "scale": {"domain": [0, 2.2], "reverse": true}, "axis": null}, "y2": {"datum": 2}}},
  {"mark": {"type": "rule", "color": "#d0d0d0"}, "encoding": {"x": {"datum": 0, "type": "quantitative", "axis": null}, "x2": {"datum": 1}, "y": {"datum": 0, "type": "quantitative", "axis": null}}},
  {"mark": {"type": "rule", "color": "#9a9a9a"}, "encoding": {"x": {"datum": 1, "type": "quantitative", "axis": null}, "y": {"datum": 0.15, "type": "quantitative", "axis": null}, "y2": {"datum": 0.8}}},
  {"mark": {"type": "text", "font": "Open Sans", "fontSize": 11.2, "color": "black"}, "encoding": {"x": {"datum": 0.5, "type": "quantitative", "axis": null}, "y": {"datum": 0.5, "type": "quantitative", "axis": null}, "text": {"field": "col"}}},
  {"mark": {"type": "text", "font": "Open Sans", "fontSize": 11.2, "color": "#1a9a1a", "align": "right", "dx": -2}, "encoding": {"x": {"datum": 1, "type": "quantitative", "axis": null}, "y": {"datum": 1.5, "type": "quantitative", "axis": null}, "text": {"field": "value"}}}
 ]},
 {"width": 55, "height": 43, "data": {"name": "stats"}, "transform": [{"filter": "datum.col == 'VPIP'"}], "layer": [
  {"mark": {"type": "rect", "color": "#e2f1fa"}, "encoding": {"x": {"datum": 0, "type": "quantitative", "scale": {"domain": [0, 1]}, "axis": null}, "x2": {"datum": 1}, "y": {"datum": 1, "type": "quantitative", "scale": {"domain": [0, 2.2], "reverse": true}, "axis": null}, "y2": {"datum": 2}}},
  {"mark": {"type": "rule", "color": "#d0d0d0"}, "encoding": {"x": {"datum": 0, "type": "quantitative", "axis": null}, "x2": {"datum": 1}, "y": {"datum": 0, "type": "quantitative", "axis": null}}},
  {"mark": {"type": "rule", "color": "#9a9a9a"}, "encoding": {"x": {"datum": 1, "type": "quantitative", "axis": null}, "y": {"datum": 0.15, "type": "quantitative", "axis": null}, "y2": {"datum": 0.8}}},
  {"mark": {"type": "text", "font": "Open Sans", "fontSize": 11.2, "color": "black"}, "encoding": {"x": {"datum": 0.5, "type": "quantitative", "axis": null}, "y": {"datum": 0.5, "type": "quantitative", "axis": null}, "text": {"field": "col"}}},
  {"mark": {"type": "text", "font": "Open Sans", "fontSize": 11.2, "color": "black", "align": "right", "dx": -2}, "encoding": {"x": {"datum": 1, "type": "quantitative", "axis": null}, "y": {"datum": 1.5, "type": "quantitative", "axis": null}, "text": {"field": "value"}}}
 ]},
 {"width": 46, "height": 43, "data": {"name": "stats"}, "transform": [{"filter": "datum.col == 'PFR'"}], "layer": [
  {"mark": {"type": "rect", "color": "#e2f1fa"}, "encoding": {"x": {"datum": 0, "type": "quantitative", "scale": {"domain": [0, 1]}, "axis": null}, "x2": {"datum": 1}, "y": {"datum": 1, "type": "quantitative", "scale": {"domain": [0, 2.2], "reverse": true}, "axis": null}, "y2": {"datum": 2}}},
  {"mark": {"type": "rule", "color": "#d0d0d0"}, "encoding": {"x": {"datum": 0, "type": "quantitative", "axis": null}, "x2": {"datum": 1}, "y": {"datum": 0, "type": "quantitative", "axis": null}}},
  {"mark": {"type": "rule", "color": "#9a9a9a"}, "encoding": {"x": {"datum": 1, "type": "quantitative", "axis": null}, "y": {"datum": 0.15, "type": "quantitative", "axis": null}, "y2": {"datum": 0.8}}},
  {"mark": {"type": "text", "font": "Open Sans", "fontSize": 11.2, "color": "black"}, "encoding": {"x": {"datum": 0.5, "type": "quantitative", "axis": null}, "y": {"datum": 0.5, "type": "quantitative", "axis": null}, "text": {"field": "col"}}},
  {"mark": {"type": "text", "font": "Open Sans", "fontSize": 11.2, "color": "black", "align": "right", "dx": -2}, "encoding": {"x": {"datum": 1, "type": "quantitative", "axis": null}, "y": {"datum": 1.5, "type": "quantitative", "axis": null}, "text": {"field": "value"}}}
 ]},
 {"width": 49, "height": 43, "data": {"name": "stats"}, "transform": [{"filter": "datum.col == '3Bet PF'"}], "layer": [
  {"mark": {"type": "rect", "color": "#e2f1fa"}, "encoding": {"x": {"datum": 0, "type": "quantitative", "scale": {"domain": [0, 1]}, "axis": null}, "x2": {"datum": 1}, "y": {"datum": 1, "type": "quantitative", "scale": {"domain": [0, 2.2], "reverse": true}, "axis": null}, "y2": {"datum": 2}}},
  {"mark": {"type": "rule", "color": "#d0d0d0"}, "encoding": {"x": {"datum": 0, "type": "quantitative", "axis": null}, "x2": {"datum": 1}, "y": {"datum": 0, "type": "quantitative", "axis": null}}},
  {"mark": {"type": "rule", "color": "#9a9a9a"}, "encoding": {"x": {"datum": 1, "type": "quantitative", "axis": null}, "y": {"datum": 0.15, "type": "quantitative", "axis": null}, "y2": {"datum": 0.8}}},
  {"mark": {"type": "text", "font": "Open Sans", "fontSize": 11.2, "color": "black"}, "encoding": {"x": {"datum": 0.5, "type": "quantitative", "axis": null}, "y": {"datum": 0.5, "type": "quantitative", "axis": null}, "text": {"field": "col"}}},
  {"mark": {"type": "text", "font": "Open Sans", "fontSize": 11.2, "color": "black", "align": "right", "dx": -2}, "encoding": {"x": {"datum": 1, "type": "quantitative", "axis": null}, "y": {"datum": 1.5, "type": "quantitative", "axis": null}, "text": {"field": "value"}}}
 ]},
 {"width": 65, "height": 43, "data": {"name": "stats"}, "transform": [{"filter": "datum.col == 'WTSD %'"}], "layer": [
  {"mark": {"type": "rect", "color": "#e2f1fa"}, "encoding": {"x": {"datum": 0, "type": "quantitative", "scale": {"domain": [0, 1]}, "axis": null}, "x2": {"datum": 1}, "y": {"datum": 1, "type": "quantitative", "scale": {"domain": [0, 2.2], "reverse": true}, "axis": null}, "y2": {"datum": 2}}},
  {"mark": {"type": "rule", "color": "#d0d0d0"}, "encoding": {"x": {"datum": 0, "type": "quantitative", "axis": null}, "x2": {"datum": 1}, "y": {"datum": 0, "type": "quantitative", "axis": null}}},
  {"mark": {"type": "rule", "color": "#9a9a9a"}, "encoding": {"x": {"datum": 1, "type": "quantitative", "axis": null}, "y": {"datum": 0.15, "type": "quantitative", "axis": null}, "y2": {"datum": 0.8}}},
  {"mark": {"type": "text", "font": "Open Sans", "fontSize": 11.2, "color": "black"}, "encoding": {"x": {"datum": 0.5, "type": "quantitative", "axis": null}, "y": {"datum": 0.5, "type": "quantitative", "axis": null}, "text": {"field": "col"}}},
  {"mark": {"type": "text", "font": "Open Sans", "fontSize": 11.2, "color": "black", "align": "right", "dx": -2}, "encoding": {"x": {"datum": 1, "type": "quantitative", "axis": null}, "y": {"datum": 1.5, "type": "quantitative", "axis": null}, "text": {"field": "value"}}}
 ]},
 {"width": 55, "height": 43, "data": {"name": "stats"}, "transform": [{"filter": "datum.col == 'W$SD'"}], "layer": [
  {"mark": {"type": "rect", "color": "#e2f1fa"}, "encoding": {"x": {"datum": 0, "type": "quantitative", "scale": {"domain": [0, 1]}, "axis": null}, "x2": {"datum": 1}, "y": {"datum": 1, "type": "quantitative", "scale": {"domain": [0, 2.2], "reverse": true}, "axis": null}, "y2": {"datum": 2}}},
  {"mark": {"type": "rule", "color": "#d0d0d0"}, "encoding": {"x": {"datum": 0, "type": "quantitative", "axis": null}, "x2": {"datum": 1}, "y": {"datum": 0, "type": "quantitative", "axis": null}}},
  {"mark": {"type": "rule", "color": "#9a9a9a"}, "encoding": {"x": {"datum": 1, "type": "quantitative", "axis": null}, "y": {"datum": 0.15, "type": "quantitative", "axis": null}, "y2": {"datum": 0.8}}},
  {"mark": {"type": "text", "font": "Open Sans", "fontSize": 11.2, "color": "black"}, "encoding": {"x": {"datum": 0.5, "type": "quantitative", "axis": null}, "y": {"datum": 0.5, "type": "quantitative", "axis": null}, "text": {"field": "col"}}},
  {"mark": {"type": "text", "font": "Open Sans", "fontSize": 11.2, "color": "black", "align": "right", "dx": -2}, "encoding": {"x": {"datum": 1, "type": "quantitative", "axis": null}, "y": {"datum": 1.5, "type": "quantitative", "axis": null}, "text": {"field": "value"}}}
 ]},
 {"width": 51, "height": 43, "data": {"name": "stats"}, "transform": [{"filter": "datum.col == 'WWSF'"}], "layer": [
  {"mark": {"type": "rect", "color": "#e2f1fa"}, "encoding": {"x": {"datum": 0, "type": "quantitative", "scale": {"domain": [0, 1]}, "axis": null}, "x2": {"datum": 1}, "y": {"datum": 1, "type": "quantitative", "scale": {"domain": [0, 2.2], "reverse": true}, "axis": null}, "y2": {"datum": 2}}},
  {"mark": {"type": "rule", "color": "#d0d0d0"}, "encoding": {"x": {"datum": 0, "type": "quantitative", "axis": null}, "x2": {"datum": 1.15}, "y": {"datum": 0, "type": "quantitative", "axis": null}}},
  {"mark": {"type": "rule", "color": "#9a9a9a"}, "encoding": {"x": {"datum": 1, "type": "quantitative", "axis": null}, "y": {"datum": 0.15, "type": "quantitative", "axis": null}, "y2": {"datum": 0.8}}},
  {"mark": {"type": "text", "font": "Open Sans", "fontSize": 11.2, "color": "black"}, "encoding": {"x": {"datum": 0.5, "type": "quantitative", "axis": null}, "y": {"datum": 0.5, "type": "quantitative", "axis": null}, "text": {"field": "col"}}},
  {"mark": {"type": "text", "font": "Open Sans", "fontSize": 11.2, "color": "black", "align": "right", "dx": -2}, "encoding": {"x": {"datum": 1, "type": "quantitative", "axis": null}, "y": {"datum": 1.5, "type": "quantitative", "axis": null}, "text": {"field": "value"}}}
 ]}
]
}
]
}
